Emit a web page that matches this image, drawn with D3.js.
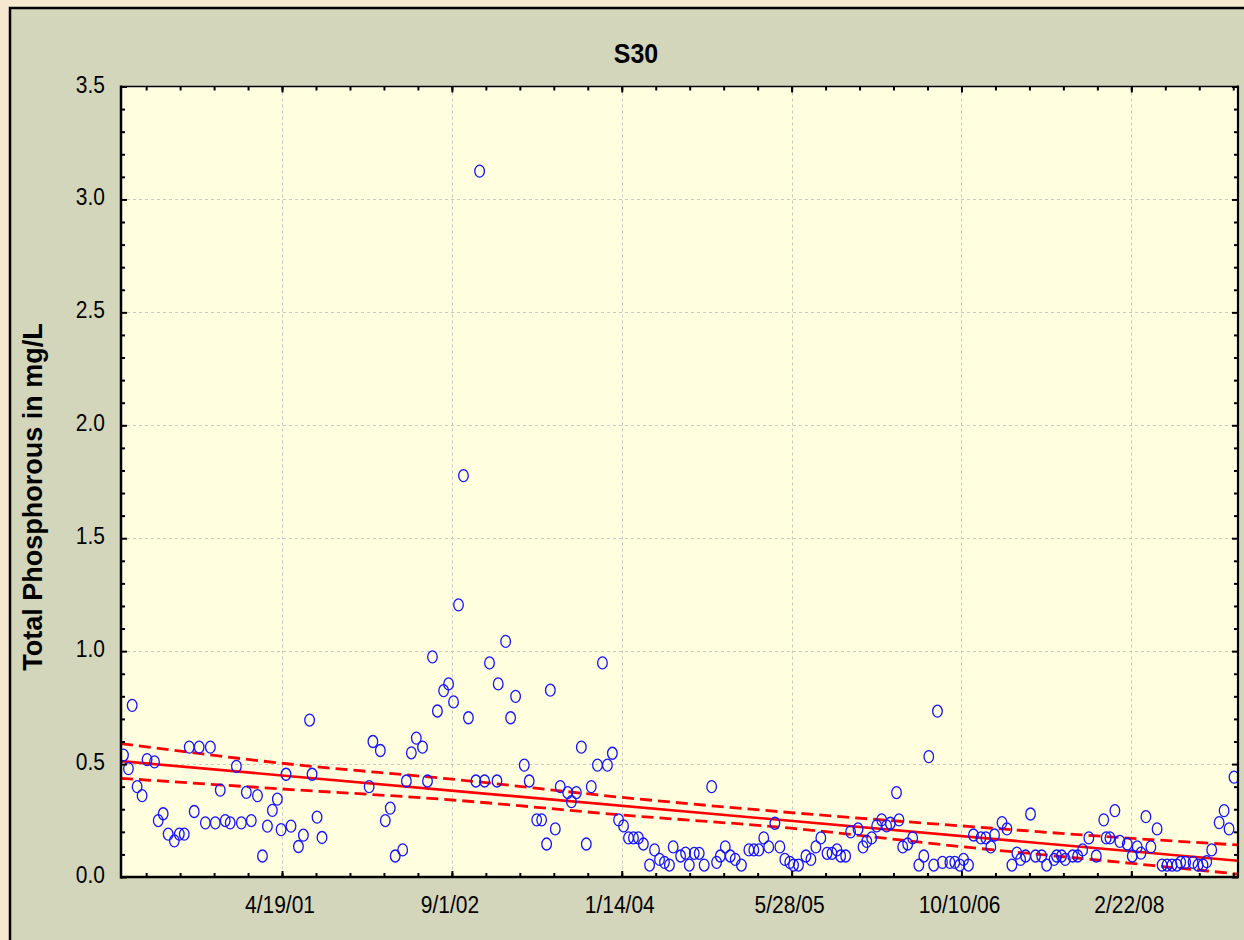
<!DOCTYPE html>
<html>
<head>
<meta charset="utf-8">
<script src="https://cdn.jsdelivr.net/npm/d3@7"></script>
<style>
  html, body { margin: 0; padding: 0; background: #f5e8d0; }
  svg { display: block; }
  text { font-family: "Liberation Sans", Arial, sans-serif; fill: #000; }
</style>
</head>
<body>
<svg id="chart" width="1244" height="940"></svg>
<script>
// Sampling dates (decimal years) and total phosphorus (mg/L) at station S30
const sampleYear = [
  2000.02,2000.06,2000.09,2000.13,2000.17,2000.21,2000.27,2000.30,2000.34,2000.38,
  2000.43,2000.47,2000.51,2000.55,2000.59,2000.63,2000.68,2000.72,2000.76,2000.80,
  2000.84,2000.88,2000.93,2000.97,2001.01,2001.05,2001.10,2001.14,2001.18,2001.22,
  2001.26,2001.29,2001.33,2001.37,2001.43,2001.47,2001.52,2001.54,2001.58,2001.62,
  2002.00,2002.03,2002.09,2002.13,2002.17,2002.21,2002.27,2002.30,
  2002.34,2002.38,2002.43,2002.47,2002.51,2002.55,2002.60,2002.64,2002.68,2002.72,
  2002.76,2002.80,2002.86,2002.89,2002.93,2002.97,2003.03,2003.04,2003.10,2003.14,
  2003.18,2003.25,2003.29,2003.35,2003.39,2003.43,2003.46,2003.50,2003.54,2003.60,
  2003.63,2003.67,2003.71,2003.75,2003.79,2003.84,2003.88,2003.92,2003.96,2004.01,
  2004.05,2004.09,2004.13,2004.17,2004.21,2004.26,2004.30,2004.34,2004.38,2004.42,
  2004.45,2004.51,2004.55,2004.58,
  2004.62,2004.66,2004.70,2004.76,2004.80,2004.83,2004.87,2004.91,2004.95,2005.00,
  2005.06,2005.10,2005.14,2005.18,2005.22,2005.27,2005.31,2005.35,2005.39,2005.42,
  2005.46,2005.52,2005.56,2005.60,2005.64,2005.69,2005.73,2005.77,2005.80,2005.84,
  2005.88,2005.94,2005.98,2006.01,2006.05,2006.09,2006.13,2006.17,2006.20,2006.25,
  2006.27,2006.30,2006.34,2006.38,2006.43,2006.47,2006.51,2006.55,2006.58,2006.62,
  2006.68,2006.72,2006.76,2006.79,2006.83,
  2006.87,2006.93,2006.97,2007.01,2007.04,2007.10,2007.14,2007.18,2007.22,2007.25,
  2007.29,2007.33,2007.37,2007.42,2007.46,2007.52,2007.54,2007.58,2007.61,2007.67,
  2007.71,2007.75,2007.80,2007.86,2007.92,2007.94,2007.97,2008.01,2008.05,2008.11,
  2008.15,2008.19,2008.22,2008.26,2008.30,2008.35,2008.39,2008.43,2008.47,2008.51,
  2008.54,2008.58,2008.64,2008.68,2008.72,2008.75,2008.79,2008.85,2008.89,2008.93,
  2008.97
];
const phosphorus = [
  0.54,0.48,0.76,0.40,0.36,0.52,0.51,0.25,0.28,0.19,
  0.16,0.19,0.19,0.575,0.29,0.575,0.24,0.575,0.24,0.385,
  0.25,0.24,0.49,0.24,0.375,0.25,0.36,0.093,0.225,0.295,
  0.345,0.21,0.455,0.225,0.135,0.185,0.695,0.455,0.265,0.175,
  0.40,0.60,0.56,0.25,0.305,0.093,0.12,0.425,
  0.55,0.615,0.575,0.425,0.975,0.735,0.825,0.855,0.775,1.205,
  1.777,0.705,0.425,3.125,0.425,0.948,0.425,0.855,1.043,0.705,
  0.80,0.495,0.425,0.253,0.253,0.146,0.827,0.213,0.40,0.374,
  0.334,0.374,0.575,0.146,0.40,0.495,0.948,0.495,0.548,0.253,
  0.226,0.173,0.173,0.173,0.146,0.053,0.12,0.078,0.065,0.053,
  0.133,0.093,0.106,0.053,
  0.105,0.105,0.053,0.40,0.065,0.093,0.133,0.093,0.078,0.053,
  0.12,0.12,0.12,0.173,0.133,0.238,0.133,0.078,0.065,0.053,
  0.053,0.093,0.078,0.133,0.173,0.105,0.105,0.12,0.093,0.093,
  0.20,0.213,0.133,0.158,0.173,0.226,0.253,0.226,0.238,0.374,
  0.253,0.133,0.146,0.173,0.053,0.093,0.533,0.053,0.734,0.065,
  0.065,0.065,0.053,0.078,0.053,
  0.186,0.173,0.173,0.133,0.186,0.241,0.213,0.053,0.106,0.078,
  0.093,0.279,0.093,0.093,0.053,0.078,0.093,0.093,0.078,0.093,
  0.093,0.12,0.173,0.093,0.253,0.173,0.173,0.294,0.158,0.146,
  0.093,0.133,0.106,0.267,0.133,0.213,0.053,0.053,0.053,0.053,
  0.065,0.065,0.065,0.053,0.053,0.068,0.12,0.241,0.294,0.213,
  0.442
];

// Linear trend and its 95% confidence band
const fitYear  = [2000.0, 2009.0];
const fitValue = [0.513, 0.072];
const bandYear  = [2000.0, 2001.29, 2002.67, 2004.03, 2005.40, 2006.78, 2008.15, 2009.0];
const bandUpper = [0.591, 0.504, 0.433, 0.353, 0.285, 0.226, 0.171, 0.142];
const bandLower = [0.437, 0.390, 0.341, 0.275, 0.216, 0.134, 0.060, 0.013];

// Axis ticks
const dateTicks  = ["2001-04-19", "2002-09-01", "2004-01-14", "2005-05-28", "2006-10-10", "2008-02-22"];
const valueTicks = [0, 0.5, 1.0, 1.5, 2.0, 2.5, 3.0, 3.5];
const chartTitle = "S30";
const yTitle = "Total Phosphorous in mg/L";

const DAY = 864e5;
const toDate = yr => new Date(Date.UTC(2000, 0, 1) + (yr - 2000) * 365.25 * DAY);
const parseDay = d3.utcParse("%Y-%m-%d");
const fmt = d3.utcFormat("%-m/%-d/%y");

const svg = d3.select("#chart");
const plot = { left: 121, right: 1238, top: 86.5, bottom: 877 };

// Outer frame
svg.append("rect").attr("x", 10).attr("y", 8).attr("width", 1300).attr("height", 1000)
  .attr("fill", "#d4d6bb").attr("stroke", "#000").attr("stroke-width", 2.5);

const x = d3.scaleUtc()
  .domain([new Date(Date.UTC(2000, 0, 1)), new Date(Date.UTC(2009, 0, 1))])
  .range([plot.left, plot.right]);
const y = d3.scaleLinear().domain([0, 3.5]).range([plot.bottom, plot.top]);

// Plot background
svg.append("rect")
  .attr("x", plot.left).attr("y", plot.top)
  .attr("width", plot.right - plot.left).attr("height", plot.bottom - plot.top)
  .attr("fill", "#ffffe0");

svg.append("clipPath").attr("id", "plotClip").append("rect")
  .attr("x", plot.left).attr("y", plot.top)
  .attr("width", plot.right - plot.left).attr("height", plot.bottom - plot.top);

const majorDates = dateTicks.map(parseDay);
const minorDates = d3.range(-10, 40)
  .map(k => new Date(+majorDates[0] + k * 100 * DAY))
  .filter(d => d > x.domain()[0] && d < x.domain()[1]);
const minorValues = d3.range(1, 35).map(i => i / 10).filter(v => Math.abs(v * 2 - Math.round(v * 2)) > 1e-6);

// Grid lines
const grid = svg.append("g").attr("stroke", "#c9c9c2").attr("stroke-width", 1).attr("stroke-dasharray", "3,3");
grid.selectAll("line.gx").data(majorDates).join("line")
  .attr("x1", d => Math.round(x(d)) + 0.5).attr("x2", d => Math.round(x(d)) + 0.5)
  .attr("y1", plot.top).attr("y2", plot.bottom);
grid.selectAll("line.gy").data(valueTicks.filter(v => v > 0 && v < 3.5)).join("line")
  .attr("x1", plot.left).attr("x2", plot.right)
  .attr("y1", d => Math.round(y(d)) + 0.5).attr("y2", d => Math.round(y(d)) + 0.5);

const inner = svg.append("g").attr("clip-path", "url(#plotClip)");

// Trend line and confidence band
const line = d3.line().x(d => x(toDate(d[0]))).y(d => y(d[1]));
const bandLine = d3.line().x(d => x(toDate(d[0]))).y(d => y(d[1])).curve(d3.curveMonotoneX);
[bandUpper, bandLower].forEach(arr => {
  inner.append("path")
    .attr("d", bandLine(bandYear.map((yr, i) => [yr, arr[i]])))
    .attr("fill", "none").attr("stroke", "#ff0000").attr("stroke-width", 2.8)
    .attr("stroke-dasharray", "12,6");
});
inner.append("path")
  .attr("d", line(fitYear.map((yr, i) => [yr, fitValue[i]])))
  .attr("fill", "none").attr("stroke", "#ff0000").attr("stroke-width", 2.6);

// Samples
inner.selectAll("ellipse").data(sampleYear.map((yr, i) => [yr, phosphorus[i]])).join("ellipse")
  .attr("cx", d => x(toDate(d[0])))
  .attr("cy", d => y(d[1]))
  .attr("rx", 4.8).attr("ry", 6.0)
  .attr("fill", "none").attr("stroke", "#1414ff").attr("stroke-width", 1.3);

// Axes (ticks point inward on all four sides)
function styleAxis(g) {
  g.select(".domain").remove();
  g.selectAll(".tick line").attr("stroke", "#000").attr("stroke-width", 2);
  g.selectAll("text").remove();
}
svg.append("g").attr("transform", `translate(0,${plot.bottom})`)
  .call(d3.axisBottom(x).tickValues(minorDates).tickSize(-4)).call(styleAxis);
svg.append("g").attr("transform", `translate(0,${plot.bottom})`)
  .call(d3.axisBottom(x).tickValues(majorDates).tickSize(-6)).call(styleAxis);
svg.append("g").attr("transform", `translate(0,${plot.top})`)
  .call(d3.axisTop(x).tickValues(minorDates).tickSize(-4)).call(styleAxis);
svg.append("g").attr("transform", `translate(0,${plot.top})`)
  .call(d3.axisTop(x).tickValues(majorDates).tickSize(-6)).call(styleAxis);
svg.append("g").attr("transform", `translate(${plot.left},0)`)
  .call(d3.axisLeft(y).tickValues(minorValues).tickSize(-4)).call(styleAxis);
svg.append("g").attr("transform", `translate(${plot.left},0)`)
  .call(d3.axisLeft(y).tickValues(valueTicks).tickSize(-6)).call(styleAxis);
svg.append("g").attr("transform", `translate(${plot.right},0)`)
  .call(d3.axisRight(y).tickValues(minorValues).tickSize(-4)).call(styleAxis);
svg.append("g").attr("transform", `translate(${plot.right},0)`)
  .call(d3.axisRight(y).tickValues(valueTicks).tickSize(-6)).call(styleAxis);

// Plot border
const border = svg.append("g").attr("stroke", "#000");
border.append("line").attr("x1", plot.left).attr("x2", plot.left).attr("y1", plot.top - 1).attr("y2", plot.bottom + 1.5).attr("stroke-width", 2.5);
border.append("line").attr("x1", plot.left - 1).attr("x2", plot.right + 1).attr("y1", plot.bottom).attr("y2", plot.bottom).attr("stroke-width", 2.5);
border.append("line").attr("x1", plot.left).attr("x2", plot.right).attr("y1", plot.top).attr("y2", plot.top).attr("stroke-width", 1.6);
border.append("line").attr("x1", plot.right).attr("x2", plot.right).attr("y1", plot.top - 1).attr("y2", plot.bottom).attr("stroke-width", 2.2);

// Tick labels (slightly tall glyphs)
svg.append("g").selectAll("text").data(majorDates).join("text")
  .attr("transform", d => `translate(${x(d) - 2},913) scale(1,1.12)`)
  .attr("text-anchor", "middle").attr("font-size", 21)
  .text(d => fmt(d));
svg.append("g").selectAll("text").data(valueTicks).join("text")
  .attr("transform", d => `translate(105,${y(d) + 6}) scale(1,1.12)`)
  .attr("text-anchor", "end").attr("font-size", 21)
  .text(d => d.toFixed(1));

// Titles
svg.append("text").attr("transform", "translate(636,63) scale(1,1.12)")
  .attr("text-anchor", "middle").attr("font-size", 25).attr("font-weight", "bold")
  .text(chartTitle);
svg.append("text").attr("transform", "translate(42,497) rotate(-90)")
  .attr("text-anchor", "middle").attr("font-size", 27).attr("font-weight", "bold")
  .text(yTitle);
</script>
</body>
</html>
